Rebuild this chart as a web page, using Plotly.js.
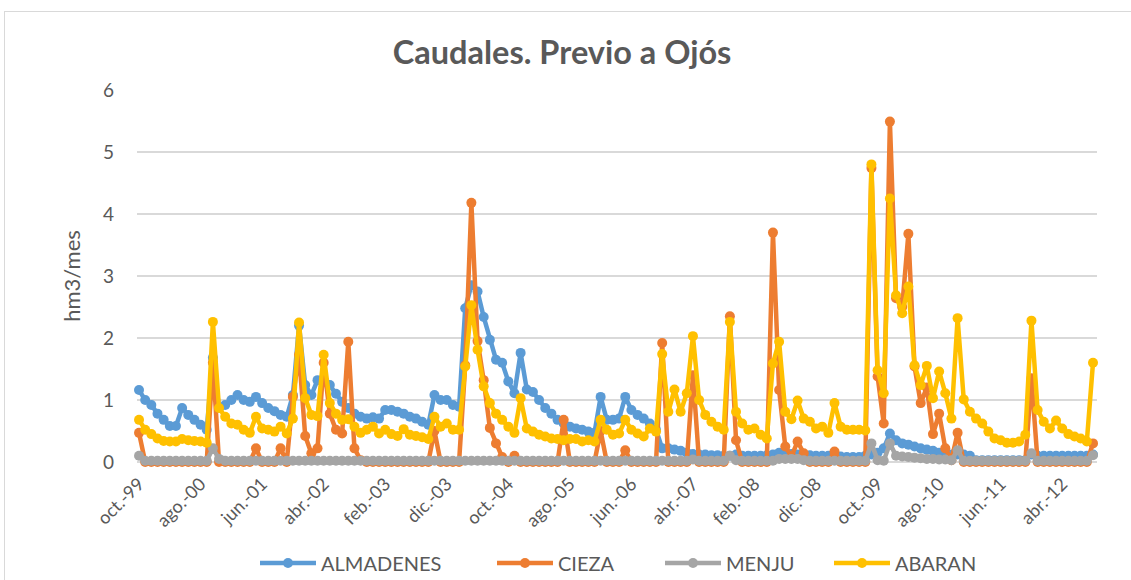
<!DOCTYPE html>
<html>
<head>
<meta charset="utf-8">
<script src="https://cdn.plot.ly/plotly-3.0.1.min.js"></script>
<style>
  html, body { margin: 0; padding: 0; background: #fff; overflow: hidden; }
  #frame { position: absolute; left: 4px; top: 11px; width: 1140px; height: 600px; border: 1px solid #d9d9d9; box-sizing: border-box; }
  #chart { position: absolute; left: 0; top: 0; width: 1131px; height: 580px; }
</style>
</head>
<body>
<div id="frame"></div>
<div id="chart"></div>
<script>
// Month names and period (oct-1999 .. sep-2012, monthly)
const monthNames = ['ene.', 'feb.', 'mar.', 'abr.', 'may.', 'jun.', 'jul.', 'ago.', 'sep.', 'oct.', 'nov.', 'dic.'];
const startYear = 1999, startMonth = 9, nMonths = 156;

// Tick labels shown on the axis (every 10 months)
const tickLabels = ['oct.-99', 'ago.-00', 'jun.-01', 'abr.-02', 'feb.-03', 'dic.-03', 'oct.-04', 'ago.-05',
  'jun.-06', 'abr.-07', 'feb.-08', 'dic.-08', 'oct.-09', 'ago.-10', 'jun.-11', 'abr.-12'];

// Series names (legend order)
const seriesNames = ['ALMADENES', 'CIEZA', 'MENJU', 'ABARAN'];

const almadenes = [1.16, 1.0, 0.92, 0.78, 0.68, 0.58, 0.58, 0.87, 0.76, 0.68, 0.6, 0.52, 1.68, 0.87, 0.92, 1.0, 1.08, 1.0, 0.97, 1.05,
  0.95, 0.87, 0.82, 0.76, 0.73, 1.08, 2.2, 1.24, 1.08, 1.32, 1.3, 1.24, 1.1, 0.97, 0.87, 0.78, 0.73, 0.70, 0.72, 0.70,
  0.84, 0.84, 0.81, 0.78, 0.73, 0.70, 0.65, 0.60, 1.08, 1.0, 1.0, 0.92, 0.89, 2.48, 2.85, 2.75, 2.34, 1.97, 1.65, 1.6,
  1.3, 1.11, 1.76, 1.17, 1.13, 1.0, 0.87, 0.78, 0.68, 0.62, 0.57, 0.54, 0.52, 0.49, 0.47, 1.05, 0.68, 0.68, 0.70, 1.05,
  0.84, 0.76, 0.70, 0.62, 0.52, 0.22, 0.22, 0.2, 0.18, 0.15, 0.13, 0.12, 0.12, 0.11, 0.11, 0.1, 0.1, 0.12, 0.1, 0.1,
  0.1, 0.1, 0.11, 0.12, 0.15, 0.14, 0.13, 0.12, 0.12, 0.11, 0.1, 0.1, 0.1, 0.09, 0.09, 0.08, 0.08, 0.08, 0.1, 0.12,
  0.15, 0.22, 0.46, 0.35, 0.3, 0.28, 0.25, 0.22, 0.2, 0.18, 0.15, 0.13, 0.12, 0.12, 0.12, 0.1, 0.03, 0.03, 0.03, 0.03,
  0.03, 0.03, 0.03, 0.03, 0.03, 0.12, 0.1, 0.1, 0.1, 0.1, 0.1, 0.1, 0.1, 0.1, 0.1, 0.12];

const cieza = [0.47, 0, 0, 0, 0, 0, 0, 0, 0, 0, 0, 0, 1.6, 0, 0, 0, 0, 0, 0, 0.22,
  0, 0, 0, 0.22, 0, 1.05, 1.73, 0.42, 0.14, 0.22, 1.6, 0.78, 0.52, 0.46, 1.94, 0.22, 0.03, 0, 0, 0,
  0, 0, 0, 0, 0, 0, 0, 0, 0.5, 0, 0, 0, 0, 1.56, 4.18, 1.95, 1.32, 0.55, 0.3, 0.08,
  0, 0.1, 0, 0, 0, 0, 0, 0, 0, 0.68, 0, 0, 0, 0, 0, 0.5, 0, 0, 0, 0.19,
  0, 0, 0, 0, 0, 1.92, 0, 0, 0, 0, 1.4, 0, 0, 0, 0, 0, 2.35, 0.35, 0, 0,
  0, 0, 0, 3.70, 1.16, 0.25, 0.09, 0.33, 0.14, 0, 0, 0, 0, 0.17, 0, 0, 0, 0, 0, 4.74,
  1.38, 0.62, 5.49, 2.64, 2.5, 3.68, 1.54, 0.95, 1.2, 0.45, 0.78, 0.22, 0.03, 0.47, 0, 0, 0, 0, 0, 0,
  0, 0, 0, 0, 0, 1.35, 0, 0, 0, 0, 0, 0, 0, 0, 0, 0.3];

const menju = [0.1, 0.02, 0.02, 0.02, 0.02, 0.02, 0.02, 0.02, 0.02, 0.02, 0.02, 0.02, 0.22, 0.05, 0.02, 0.02, 0.02, 0.02, 0.02, 0.02,
  0.02, 0.02, 0.02, 0.02, 0.02, 0.02, 0.02, 0.02, 0.02, 0.02, 0.02, 0.02, 0.02, 0.02, 0.02, 0.02, 0.02, 0.02, 0.02, 0.02,
  0.02, 0.02, 0.02, 0.02, 0.02, 0.02, 0.02, 0.02, 0.02, 0.02, 0.02, 0.02, 0.02, 0.02, 0.02, 0.02, 0.02, 0.02, 0.02, 0.02,
  0.02, 0.02, 0.02, 0.02, 0.02, 0.02, 0.02, 0.02, 0.02, 0.02, 0.02, 0.02, 0.02, 0.02, 0.02, 0.02, 0.02, 0.02, 0.02, 0.02,
  0.02, 0.02, 0.02, 0.02, 0.02, 0.02, 0.02, 0.02, 0.02, 0.02, 0.04, 0.02, 0.02, 0.02, 0.02, 0.02, 0.1, 0.03, 0.02, 0.02,
  0.02, 0.02, 0.02, 0.02, 0.05, 0.05, 0.05, 0.05, 0.03, 0.02, 0.02, 0.02, 0.02, 0.02, 0.02, 0.02, 0.02, 0.02, 0.02, 0.3,
  0.03, 0.02, 0.3, 0.1, 0.09, 0.08, 0.07, 0.06, 0.05, 0.05, 0.04, 0.04, 0.03, 0.19, 0.02, 0.02, 0.02, 0.02, 0.02, 0.02,
  0.02, 0.02, 0.02, 0.02, 0.02, 0.14, 0.02, 0.02, 0.02, 0.02, 0.02, 0.02, 0.02, 0.02, 0.02, 0.11];

const abaran = [0.68, 0.52, 0.45, 0.38, 0.34, 0.33, 0.33, 0.37, 0.35, 0.34, 0.33, 0.31, 2.26, 0.87, 0.73, 0.62, 0.6, 0.52, 0.47, 0.73,
  0.54, 0.52, 0.49, 0.57, 0.46, 0.70, 2.25, 1.03, 0.76, 0.74, 1.73, 0.95, 0.78, 0.68, 0.69, 0.57, 0.47, 0.52, 0.57, 0.46,
  0.52, 0.45, 0.42, 0.53, 0.44, 0.42, 0.40, 0.37, 0.73, 0.57, 0.62, 0.52, 0.52, 1.54, 2.53, 1.81, 1.22, 0.95, 0.78, 0.68,
  0.57, 0.47, 1.03, 0.54, 0.49, 0.44, 0.41, 0.38, 0.37, 0.35, 0.37, 0.37, 0.33, 0.35, 0.33, 0.68, 0.52, 0.44, 0.46, 0.68,
  0.52, 0.46, 0.41, 0.54, 0.49, 1.74, 0.81, 1.17, 0.81, 1.11, 2.03, 1.0, 0.76, 0.65, 0.57, 0.52, 2.26, 0.81, 0.62, 0.52,
  0.54, 0.44, 0.38, 1.59, 1.94, 0.81, 0.69, 0.99, 0.70, 0.65, 0.54, 0.57, 0.47, 0.95, 0.57, 0.52, 0.52, 0.52, 0.51, 4.8,
  1.48, 1.11, 4.25, 2.69, 2.4, 2.83, 1.56, 1.24, 1.55, 1.03, 1.46, 1.11, 0.70, 2.32, 1.01, 0.81, 0.70, 0.62, 0.49, 0.38,
  0.35, 0.31, 0.31, 0.33, 0.44, 2.28, 0.84, 0.65, 0.54, 0.67, 0.54, 0.45, 0.41, 0.38, 0.33, 1.60];

// Category labels built from the month names
const categories = [];
for (let i = 0; i < nMonths; i++) {
  const m = (startMonth + i) % 12;
  const y = startYear + Math.floor((startMonth + i) / 12);
  categories.push(monthNames[m] + '-' + String(y % 100).padStart(2, '0'));
}

const colors = { ALMADENES: '#5B9BD5', CIEZA: '#ED7D31', MENJU: '#A5A5A5', ABARAN: '#FFC000' };
const seriesValues = { ALMADENES: almadenes, CIEZA: cieza, MENJU: menju, ABARAN: abaran };
function mk(name, vals) {
  return {
    type: 'scatter', mode: 'lines+markers', name: name, x: categories, y: vals,
    line: { color: colors[name], width: 4.5 },
    marker: { color: colors[name], size: 10 },
    cliponaxis: false, hoverinfo: 'x+y+name', showlegend: false
  };
}
const data = seriesNames.map(n => mk(n, seriesValues[n]));

// Custom legend (Excel-style long line symbols), placed in pixel terms
const plotL = 137, plotW = 960, plotB = 462, plotH = 372;
const px2x = p => (p - plotL) / plotW;
const py2y = p => (plotB - p) / plotH;
const legendY = 563;
const legendStarts = [260, 497, 665, 834];
const symW = 56;
const shapes = [], annotations = [];
seriesNames.forEach((n, i) => {
  const x0 = legendStarts[i], x1 = x0 + symW, xc = (x0 + x1) / 2;
  shapes.push({ type: 'line', xref: 'paper', yref: 'paper', x0: px2x(x0), x1: px2x(x1), y0: py2y(legendY), y1: py2y(legendY),
    line: { color: colors[n], width: 4.5 } });
  shapes.push({ type: 'circle', xref: 'paper', yref: 'paper', xsizemode: 'pixel', ysizemode: 'pixel',
    xanchor: px2x(xc), yanchor: py2y(legendY), x0: -5, x1: 5, y0: -5, y1: 5,
    fillcolor: colors[n], line: { color: colors[n], width: 0 } });
  annotations.push({ xref: 'paper', yref: 'paper', x: px2x(x1 + 3), y: py2y(legendY), xanchor: 'left', yanchor: 'middle',
    text: n, showarrow: false, font: { size: 20, color: '#595959' } });
});

const txt = '#595959';
const layout = {
  width: 1131, height: 580,
  margin: { l: 137, r: 34, t: 90, b: 118, autoexpand: false },
  paper_bgcolor: 'rgba(0,0,0,0)', plot_bgcolor: 'rgba(0,0,0,0)',
  font: { family: 'Lato, "Open Sans", sans-serif', color: txt },
  title: { text: '<b>Caudales. Previo a Ojós</b>', x: 0.497, xanchor: 'center', y: 0.91, yanchor: 'middle',
    font: { size: 32.5, color: txt, family: 'Lato, sans-serif' } },
  xaxis: {
    type: 'category', range: [-0.33, 155.65], showgrid: false, zeroline: false, automargin: false,
    showline: false, ticks: '', tickmode: 'array', tickvals: tickLabels, ticktext: tickLabels,
    tickangle: -45, tickfont: { size: 18, color: txt }, ticklabelstandoff: 7
  },
  yaxis: {
    range: [0, 6], dtick: 1, showgrid: true, gridcolor: '#d9d9d9', gridwidth: 1.3, automargin: false,
    zeroline: true, zerolinecolor: '#d9d9d9', zerolinewidth: 1.3, showline: false, ticks: '',
    tickfont: { size: 19, color: txt }, ticklabelstandoff: 22,
    title: { text: 'hm3/mes', font: { size: 22, color: txt }, standoff: 16 }
  },
  shapes: shapes,
  annotations: annotations,
  showlegend: false
};
Plotly.newPlot('chart', data, layout, { displayModeBar: false, staticPlot: true });
</script>
</body>
</html>
